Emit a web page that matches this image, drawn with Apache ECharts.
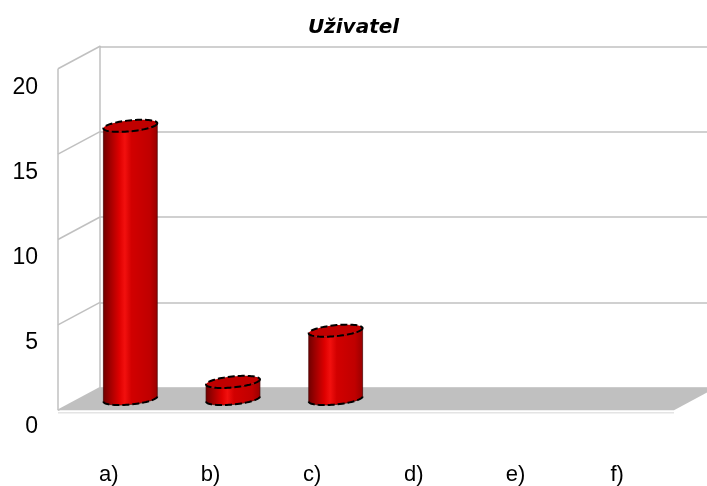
<!DOCTYPE html>
<html>
<head>
<meta charset="utf-8">
<script src="https://cdn.jsdelivr.net/npm/echarts@6/dist/echarts.min.js"></script>
<style>
  html, body { margin: 0; padding: 0; background: #ffffff; }
  #chart { width: 707px; height: 486px; }
</style>
</head>
<body>
<div id="chart"></div>
<script>
// ---- data ----
const chartTitle = 'Uživatel';
const categories = ['a)', 'b)', 'c)', 'd)', 'e)', 'f)'];
const counts = [16, 1, 4, 0, 0, 0];
const yMin = 0;
const yMax = 20;
const yStep = 5;
const yTicks = [0, 5, 10, 15, 20];

// ---- 3D look: oblique box, bars stand on the middle plane ----
const DEPTH = [42, -22.5];                 // shift from front plane to back plane
const HALF = [DEPTH[0] / 2, DEPTH[1] / 2];
const BAR_RX = 0.238;                      // cylinder radius, share of category width
const BAR_DEPTH = 0.27;                    // cylinder depth radius, share of box depth
const MID = { left: 79, right: 12, top: 57.5, bottom: 87 };
const BACK = {
  left: MID.left + HALF[0], right: MID.right - HALF[0],
  top: MID.top + HALF[1], bottom: MID.bottom - HALF[1]
};
const LABELS = { left: 58, right: 39, top: 88, bottom: 57 };

const WALL_LINE = '#c0c0c0';
const FLOOR_FILL = '#c0c0c0';
const FONT = 'Liberation Sans, Arial, sans-serif';

function ellipsePoint(c, rx, d, t) {
  return [c[0] + rx * Math.cos(t) + d[0] * Math.sin(t), c[1] + d[1] * Math.sin(t)];
}
function arc(c, rx, d, t0, t1, n) {
  const pts = [];
  for (let i = 0; i <= n; i++) {
    pts.push(ellipsePoint(c, rx, d, t0 + (t1 - t0) * i / n));
  }
  return pts;
}

function renderCylinder(params, api) {
  const v = api.value(1);
  if (!(v > 0)) return null;
  const cat = api.value(0);
  const base = api.coord([cat, yMin]);
  const top = api.coord([cat, v]);
  const rx = api.size([1, 0])[0] * BAR_RX;
  const d = [DEPTH[0] * BAR_DEPTH, DEPTH[1] * BAR_DEPTH];
  const t0 = Math.atan2(d[0], rx);            // right silhouette angle
  const f0 = t0 + Math.PI, f1 = t0 + 2 * Math.PI;
  const bottomFront = arc(base, rx, d, f0, f1, 40);
  const topFront = arc(top, rx, d, f1, f0, 40);
  const cap = arc(top, rx, d, 0, 2 * Math.PI, 80);
  const sideFill = new echarts.graphic.LinearGradient(0, 0, 1, 0, [
    { offset: 0, color: '#6e0000' },
    { offset: 0.12, color: '#9c0000' },
    { offset: 0.3, color: '#de0000' },
    { offset: 0.4, color: '#f2100e' },
    { offset: 0.52, color: '#d20000' },
    { offset: 0.85, color: '#c00000' },
    { offset: 1, color: '#980000' }
  ]);
  return {
    type: 'group',
    children: [
      { type: 'polygon', shape: { points: bottomFront.concat(topFront) },
        style: { fill: sideFill, stroke: 'rgba(70,0,0,0.7)', lineWidth: 1 } },
      { type: 'polyline', shape: { points: bottomFront },
        style: { fill: null, stroke: '#000', lineWidth: 2, lineDash: [7, 3] } },
      { type: 'polygon', shape: { points: cap },
        style: { fill: '#c00000', stroke: '#000', lineWidth: 2, lineDash: [7, 3] } }
    ]
  };
}

function renderFloor(params, api) {
  const cs = params.coordSys;
  const l = cs.x, r = cs.x + cs.width;
  const y0 = api.coord([0, yMin])[1];
  const yTop = api.coord([0, yMax])[1];
  const fl = [l - HALF[0], y0 - HALF[1]];
  const fr = [r - HALF[0], y0 - HALF[1]];
  const br = [r + HALF[0], y0 + HALF[1]];
  const bl = [l + HALF[0], y0 + HALF[1]];
  return {
    type: 'group',
    children: [
      { type: 'polygon', shape: { points: [fl, fr, br, bl] },
        style: { fill: FLOOR_FILL, stroke: null } },
      { type: 'line', shape: { x1: fl[0], y1: fl[1] + 2.5, x2: fr[0], y2: fr[1] + 2.5 },
        style: { stroke: '#e4e4e4', lineWidth: 1.5 } },
      { type: 'line', shape: { x1: fl[0], y1: yTop - HALF[1], x2: fl[0], y2: fl[1] },
        style: { stroke: WALL_LINE, lineWidth: 1.5 } }
    ]
  };
}

function renderWallLine(params, api) {
  const cs = params.coordSys;
  const l = cs.x;
  const y = api.coord([0, api.value(1)])[1];
  return {
    type: 'line',
    shape: { x1: l - HALF[0], y1: y - HALF[1], x2: l + HALF[0], y2: y + HALF[1] },
    style: { stroke: WALL_LINE, lineWidth: 1.5 }
  };
}

const chart = echarts.init(document.getElementById('chart'), null, { renderer: 'canvas' });

chart.setOption({
  animation: false,
  backgroundColor: '#ffffff',
  title: {
    text: chartTitle,
    left: 'center',
    top: 13,
    textStyle: {
      fontFamily: 'DejaVu Sans, sans-serif', fontSize: 20,
      fontStyle: 'italic', fontWeight: 'bold', color: '#000'
    }
  },
  grid: [
    { left: MID.left, right: MID.right, top: MID.top, bottom: MID.bottom },
    { left: BACK.left, right: BACK.right, top: BACK.top, bottom: BACK.bottom },
    { left: LABELS.left, right: LABELS.right, top: LABELS.top, bottom: LABELS.bottom }
  ],
  xAxis: [
    { gridIndex: 0, type: 'category', data: categories, show: false },
    { gridIndex: 1, type: 'category', data: categories, show: false },
    {
      gridIndex: 2, type: 'category', data: categories,
      axisLine: { show: false }, axisTick: { show: false },
      axisLabel: { margin: 37, fontFamily: FONT, fontSize: 22, color: '#000' }
    }
  ],
  yAxis: [
    { gridIndex: 0, type: 'value', min: yMin, max: yMax, interval: yStep, show: false },
    {
      gridIndex: 1, type: 'value', min: yMin, max: yMax, interval: yStep,
      axisLine: { show: true, lineStyle: { color: WALL_LINE, width: 1.5 } },
      axisTick: { show: false }, axisLabel: { show: false },
      splitLine: { show: true, lineStyle: { color: WALL_LINE, width: 1.5 } }
    },
    {
      gridIndex: 2, type: 'value', min: yMin, max: yMax, interval: yStep,
      axisLine: { show: false }, axisTick: { show: false }, splitLine: { show: false },
      axisLabel: { margin: 20, fontFamily: FONT, fontSize: 23, color: '#000' }
    }
  ],
  series: [
    {
      type: 'custom', xAxisIndex: 0, yAxisIndex: 0, z: 1, silent: true,
      renderItem: renderFloor, data: [[0, yMin]]
    },
    {
      type: 'custom', xAxisIndex: 0, yAxisIndex: 0, z: 1, silent: true,
      renderItem: renderWallLine, data: yTicks.map(v => [0, v])
    },
    {
      type: 'custom', xAxisIndex: 0, yAxisIndex: 0, z: 3, silent: true,
      renderItem: renderCylinder, data: counts.map((v, i) => [i, v])
    }
  ]
});
</script>
</body>
</html>
